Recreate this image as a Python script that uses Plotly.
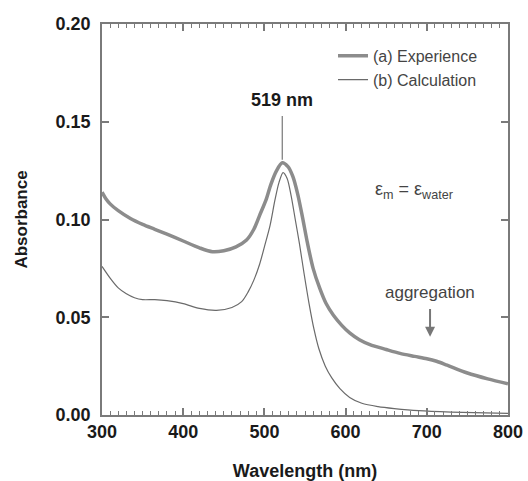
import plotly.graph_objects as go

# Experimental spectrum (a)
exp_wl = [300, 305, 310, 320, 335, 350, 365, 380, 400, 420, 436, 450, 465, 478, 487, 494,
          502, 508, 515, 522, 529, 535, 541, 547, 553, 560, 568, 576, 585, 595, 605, 617,
          630, 650, 667, 685, 700, 712, 725, 750, 775, 800]
exp_abs = [0.114, 0.1105, 0.108, 0.1045, 0.1005, 0.0975, 0.095, 0.0925, 0.089, 0.0855, 0.0835,
           0.084, 0.086, 0.0895, 0.095, 0.102, 0.110, 0.118, 0.125, 0.129, 0.127, 0.122, 0.113,
           0.101, 0.088, 0.075, 0.065, 0.057, 0.051, 0.046, 0.042, 0.0385, 0.036, 0.0335,
           0.0315, 0.030, 0.0288, 0.0275, 0.0255, 0.0215, 0.0185, 0.016]

# Calculated spectrum (b)
calc_wl = [300, 310, 320, 330, 340, 350, 365, 380, 400, 420, 441, 460, 472, 480, 487, 494,
           500, 507, 513, 518, 523, 528, 533, 538, 543, 549, 555, 561, 567, 575, 583, 593,
           605, 620, 640, 660, 690, 730, 800]
calc_abs = [0.076, 0.070, 0.065, 0.062, 0.060, 0.059, 0.059, 0.0585, 0.057, 0.0545, 0.0535,
            0.055, 0.058, 0.063, 0.069, 0.077, 0.086, 0.097, 0.110, 0.119, 0.124, 0.121, 0.112,
            0.100, 0.088, 0.072, 0.057, 0.044, 0.034, 0.025, 0.019, 0.0135, 0.009, 0.006,
            0.0043, 0.0033, 0.0022, 0.0015, 0.0008]

series_names = ["(a) Experience", "(b) Calculation"]
x_range = [300, 800]
y_range = [0.0, 0.2]

FONT = "Liberation Sans, Arial, sans-serif"
AXC = "#7a7a7a"

fig = go.Figure()
fig.add_trace(go.Scatter(x=exp_wl, y=exp_abs, mode="lines", name=series_names[0],
                         line=dict(color="#8c8c8c", width=3.5, shape="spline", smoothing=0.8)))
fig.add_trace(go.Scatter(x=calc_wl, y=calc_abs, mode="lines", name=series_names[1],
                         line=dict(color="#6a6a6a", width=1.2, shape="spline", smoothing=0.8)))
# invisible carriers for the tick-only axes (bottom and top)
for xa in ("x2", "x3"):
    fig.add_trace(go.Scatter(x=x_range, y=y_range, xaxis=xa, mode="lines",
                             line=dict(width=0), opacity=0, showlegend=False,
                             hoverinfo="skip"))

tick_axis = dict(range=x_range, overlaying="x", anchor="y",
                 tickmode="linear", tick0=300, dtick=100, ticks="inside", ticklen=7,
                 tickcolor=AXC, tickwidth=1.5,
                 minor=dict(ticks="inside", ticklen=4, tickcolor=AXC, tickwidth=1.2, dtick=10),
                 showticklabels=False, showline=False, showgrid=False, zeroline=False)

fig.update_layout(
    xaxis=dict(range=x_range, tickmode="linear", tick0=300, dtick=100, ticks="",
               showline=True, linecolor=AXC, linewidth=1.5, mirror=True,
               showgrid=False, zeroline=False, automargin=False,
               tickfont=dict(family=FONT, size=18, color="#1a1a1a", weight="bold"),
               title=dict(text="Wavelength (nm)", standoff=24,
                          font=dict(family=FONT, size=18, color="#1a1a1a", weight="bold"))),
    xaxis2=dict(side="bottom", **tick_axis),
    xaxis3=dict(side="top", **tick_axis),
    yaxis=dict(range=y_range, tickmode="linear", tick0=0, dtick=0.05, tickformat=".2f",
               ticks="inside", ticklen=7, tickcolor=AXC, tickwidth=1.5,
               showline=True, linecolor=AXC, linewidth=1.5, mirror="ticks",
               showgrid=False, zeroline=False, ticklabelstandoff=6,
               tickfont=dict(family=FONT, size=18, color="#1a1a1a", weight="bold"),
               title=dict(text="Absorbance", standoff=24,
                          font=dict(family=FONT, size=17, color="#1a1a1a", weight="bold"))),
)

fig.add_annotation(x=522, y=0.155, yanchor="bottom", text="519 nm", showarrow=False,
                   font=dict(family=FONT, size=18, color="#1a1a1a", weight="bold"))
fig.add_shape(type="line", x0=522, x1=522, y0=0.1305, y1=0.153, xref="x", yref="y",
              line=dict(color="#777777", width=1.2))
fig.add_annotation(x=684, y=0.115, text="ε<sub>m</sub> = ε<sub>water</sub>", showarrow=False,
                   font=dict(family=FONT, size=18, color="#444444"))
fig.add_annotation(x=704, y=0.0625, text="aggregation", showarrow=False,
                   font=dict(family=FONT, size=17, color="#444444"))
fig.add_annotation(x=704, y=0.040, ax=704, ay=0.055, axref="x", ayref="y", text="",
                   showarrow=True, arrowhead=2, arrowsize=1, arrowwidth=2, arrowcolor="#777777")

fig.update_layout(
    width=528, height=481,
    margin=dict(l=102, r=20, t=24, b=66),
    plot_bgcolor="white", paper_bgcolor="white",
    showlegend=True,
    legend=dict(x=0.569, y=0.962, xanchor="left", yanchor="top", bgcolor="rgba(0,0,0,0)",
                font=dict(family=FONT, size=16, color="#444444"), itemwidth=30,
                tracegroupgap=0),
)

fig.write_html("out.html")
